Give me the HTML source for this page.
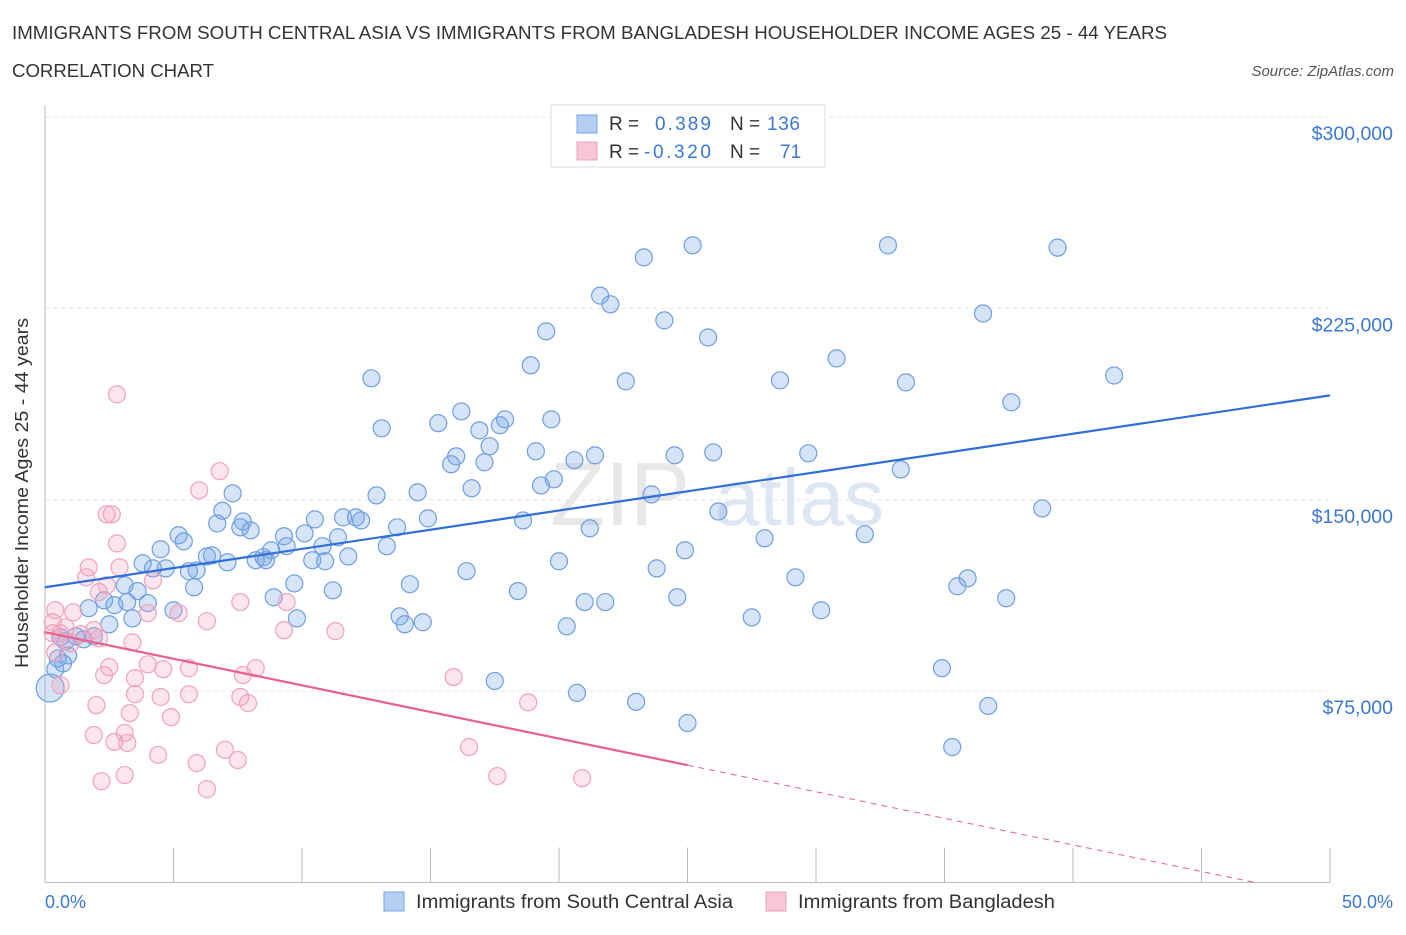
<!DOCTYPE html>
<html><head><meta charset="utf-8"><style>
body{margin:0;background:#fff;font-family:"Liberation Sans",sans-serif;}
svg text{font-family:"Liberation Sans",sans-serif;}
</style></head><body>
<svg id="chart" width="1406" height="930" xmlns="http://www.w3.org/2000/svg">
<text x="12" y="39" font-size="18" fill="#333" textLength="1155" lengthAdjust="spacingAndGlyphs">IMMIGRANTS FROM SOUTH CENTRAL ASIA VS IMMIGRANTS FROM BANGLADESH HOUSEHOLDER INCOME AGES 25 - 44 YEARS</text>
<text x="12" y="77" font-size="18" fill="#333" textLength="202" lengthAdjust="spacingAndGlyphs">CORRELATION CHART</text>
<text x="1394" y="76" font-size="15" fill="#555" font-style="italic" text-anchor="end">Source: ZipAtlas.com</text>
<text x="690" y="525" font-size="90" fill="#e8e8e8" font-family="Liberation Serif" text-anchor="end">ZIP</text>
<text x="715" y="525" font-size="80" fill="#dde6f2">atlas</text>
<g id="grid"></g>
<g id="axes"></g>
<g id="marks"></g>
<g id="trend"></g>
<text x="28" y="493" font-size="18" fill="#333" text-anchor="middle" textLength="350" lengthAdjust="spacingAndGlyphs" transform="rotate(-90 28 493)">Householder Income Ages 25 - 44 years</text>
<text x="45" y="908" font-size="18" fill="#3b78d4">0.0%</text>
<text x="1393" y="908" font-size="18" fill="#3b78d4" text-anchor="end">50.0%</text>
<g>
<rect x="551" y="105" width="274" height="62" fill="#fff" stroke="#ddd"/>
<rect x="577" y="115" width="20" height="18" fill="#b5cff3" stroke="#7aa5e4"/>
<rect x="577" y="142" width="20" height="18" fill="#f8c6d4" stroke="#eea2b9"/>
<text x="609" y="130" font-size="19" fill="#333">R =</text>
<text x="655" y="130" font-size="19" fill="#3b78d4" textLength="56">0.389</text>
<text x="730" y="130" font-size="19" fill="#333">N =</text>
<text x="767" y="130" font-size="19" fill="#3b78d4" textLength="33">136</text>
<text x="609" y="158" font-size="19" fill="#333">R =</text>
<text x="644" y="158" font-size="19" fill="#3b78d4" textLength="67">-0.320</text>
<text x="730" y="158" font-size="19" fill="#333">N =</text>
<text x="780" y="158" font-size="19" fill="#3b78d4">71</text>
</g>
<g>
<rect x="384" y="892" width="20" height="19" fill="#b5cff3" stroke="#7aa5e4"/>
<text x="416" y="908" font-size="19" fill="#333" textLength="317" lengthAdjust="spacingAndGlyphs">Immigrants from South Central Asia</text>
<rect x="766" y="892" width="20" height="19" fill="#f8c6d4" stroke="#eea2b9"/>
<text x="798" y="908" font-size="19" fill="#333" textLength="257" lengthAdjust="spacingAndGlyphs">Immigrants from Bangladesh</text>
</g>
</svg>
<script>
const yTicks=[75000,150000,225000,300000];
const yTickLabels=["$75,000","$150,000","$225,000","$300,000"];
const xTicks=[0,5,10,15,20,25,30,35,40,45,50];
const blueX=[23.3,25.2,32.8,39.4,21.6,22.0,24.1,36.5,25.8,19.5,18.9,30.8,41.6,28.6,33.5,22.6,12.7,37.6,16.2,17.9,19.7,15.3,13.1,16.9,17.7,17.3,19.1,16.0,15.8,17.1,20.6,21.4,24.5,26.0,29.7,33.3,19.3,19.8,16.6,14.5,12.9,7.3,23.6,38.8,26.2,6.9,14.9,18.6,11.6,12.1,10.5,12.3,7.7,6.7,7.6,8.0,13.7,21.2,10.1,9.3,11.4,28.0,31.9,5.2,5.4,9.4,10.8,13.3,4.5,8.8,24.9,6.5,6.3,8.5,11.8,8.2,10.4,8.6,10.9,7.1,3.8,20.0,4.2,4.7,5.9,5.6,16.4,23.8,29.2,35.9,3.1,9.7,14.2,35.5,5.8,11.2,18.4,3.6,8.9,24.6,37.4,2.3,3.2,4.0,2.7,21.0,21.8,1.7,5.0,30.2,13.8,9.8,3.4,27.5,14.7,14.0,2.5,20.3,1.9,1.2,0.6,1.5,0.8,0.9,0.5,0.7,0.4,34.9,17.5,20.7,23.0,36.7,25.0,35.3,0.2];
const blueY=[245,249.7,249.7,248.8,230,226.6,220.3,223,213.6,216,202.7,205.4,198.7,196.8,196,196.4,197.6,188.2,184.6,181.5,181.5,180,178,177.2,179.2,171,169,167,163.9,164.7,165.5,167.4,167.4,168.6,168.2,161.9,155.6,158,154.5,152.9,151.7,152.5,152.1,146.6,145.4,145.7,142.7,141.9,143.1,143.1,142.3,141.9,141.5,140.7,139.2,138,139.2,138.8,136.8,135.7,135.3,134.9,136.5,136.1,133.7,131.8,131.8,131.8,130.6,130.2,130.2,128.2,127.8,127.5,127.8,126.3,126.3,126.3,125.9,125.5,125.1,125.9,123.1,123.1,122.3,122,122,123.1,119.6,119.2,116.5,117.2,116.9,116.1,115.7,114.5,114.2,114.2,111.8,111.8,111.4,110.6,109.9,109.5,108.7,109.9,109.9,107.5,106.7,106.7,104.3,103.5,103.5,103.9,102,101.2,101.2,100.4,96.5,96.5,96.1,95.3,94.5,89,87.8,85.9,83.6,84,79,74.3,70.8,69.2,62.5,53.1,76.2];
const pinkX=[2.8,6.8,6.0,2.4,2.6,2.8,2.9,1.7,4.2,1.6,2.4,2.1,7.6,9.4,4.0,5.2,0.4,1.1,6.3,0.3,0.8,9.3,11.3,1.9,0.3,0.6,1.4,2.1,3.4,1.0,0.4,4.0,4.6,5.6,8.2,2.5,2.3,7.7,3.5,15.9,0.6,3.5,5.6,4.5,7.6,7.9,18.8,2.0,3.3,4.9,1.9,3.1,3.2,2.7,7.0,16.5,4.4,7.5,5.9,3.1,17.6,20.9,2.2,6.3];
const pinkY=[191.3,161.2,153.7,144.3,144.3,132.9,123.5,123.5,118.4,119.6,116.5,113.8,109.9,109.9,105.6,105.6,106.7,105.9,102.4,102,100,98.9,98.5,98.9,97.7,97.7,97.3,95.7,94.1,93.7,90.2,85.5,83.6,84,84,84.4,81.3,81.3,80.1,80.5,77.3,73.8,73.8,72.7,72.7,70.3,70.6,69.5,66.4,64.8,57.8,58.6,54.7,55.1,52,53.1,50,48,46.8,42.1,41.7,40.9,39.7,36.6];
const blueTrend=[115.7,190.9];   // k$ at 0% and 50%
const pinkTrend=[98.1,46.0];     // k$ at 0% and 25%

const NS="http://www.w3.org/2000/svg";
const L=45,R=1330,T=117,B=882.5;
const xs=v=>L+(v/50)*(R-L);
const ys=v=>B-(v/300)*(B-T);
function mk(tag,attrs,parent){const e=document.createElementNS(NS,tag);for(const k in attrs)e.setAttribute(k,attrs[k]);document.getElementById(parent).appendChild(e);return e;}

yTicks.forEach((t,i)=>{
  const g=mk('line',{x1:L,x2:R,y1:ys(t/1000),y2:ys(t/1000),stroke:'#e4e4e4','stroke-dasharray':'4,4'},'grid');
  
  
  const tx=mk('text',{x:1393,y:ys(t/1000)+23,'font-size':19.5,fill:'#3b78d4','text-anchor':'end'},'grid');
  tx.textContent=yTickLabels[i];
  
  
});
const ax=mk('line',{x1:L,x2:R,y1:B,y2:B,stroke:'#bbb'},'axes');


const ay=mk('line',{x1:L,x2:L,y1:105,y2:B,stroke:'#bbb'},'axes');


xTicks.forEach(t=>{
  const l=mk('line',{x1:xs(t),x2:xs(t),y1:B-35,y2:B,stroke:'#bbb'},'axes');
  
  
});
blueX.forEach((x,i)=>{
  const big=(i===blueX.length-1);
  const c=mk('circle',{cx:xs(x),cy:ys(blueY[i]),r:big?14:8.5,fill:'rgba(120,165,230,0.3)',stroke:'#6e9fe2','stroke-width':1.2},'marks');
  
  
});
pinkX.forEach((x,i)=>{
  const c=mk('circle',{cx:xs(x),cy:ys(pinkY[i]),r:8.5,fill:'rgba(245,160,190,0.28)',stroke:'#f0a3bb','stroke-width':1.2},'marks');
  
  
});
const bl=mk('line',{x1:xs(0),y1:ys(blueTrend[0]),x2:xs(50),y2:ys(blueTrend[1]),stroke:'#2f6fd6','stroke-width':2.2},'trend');


const pl=mk('line',{x1:xs(0),y1:ys(pinkTrend[0]),x2:xs(25),y2:ys(pinkTrend[1]),stroke:'#e8608e','stroke-width':2.2},'trend');


const slope=(pinkTrend[1]-pinkTrend[0])/25;
const xEnd=-pinkTrend[0]/slope;
const pd=mk('line',{x1:xs(25),y1:ys(pinkTrend[1]),x2:xs(xEnd),y2:ys(0),stroke:'#e8608e','stroke-width':1,'stroke-dasharray':'6,5'},'trend');


</script>
</body></html>
